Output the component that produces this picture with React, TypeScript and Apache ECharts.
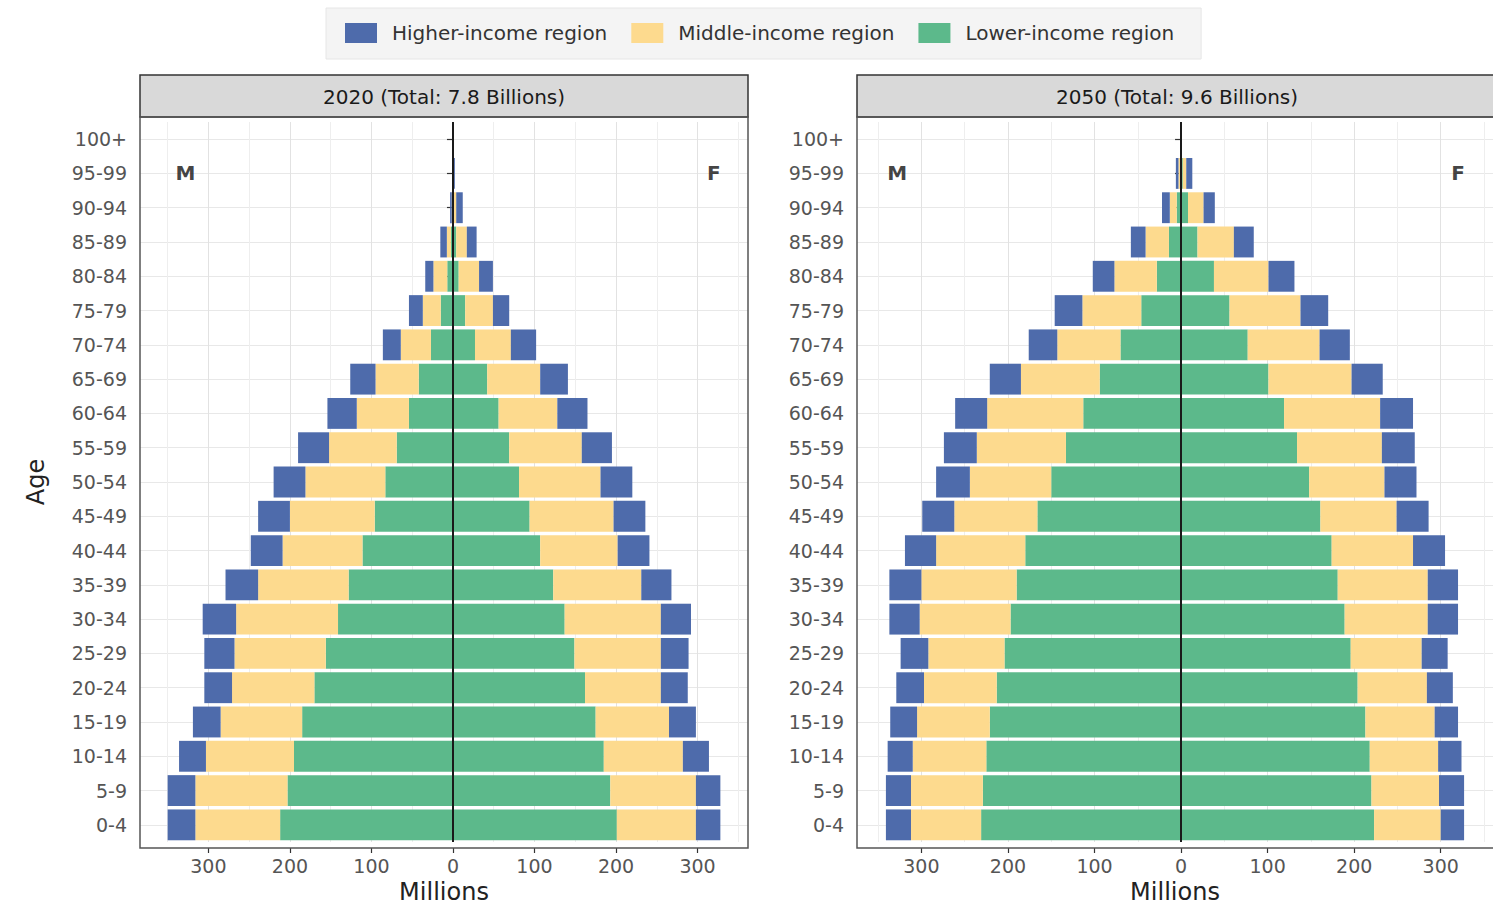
import React, { useEffect, useRef } from 'react';
import * as echarts from 'echarts';

// ---------- data ----------
const ageGroups = ['0-4', '5-9', '10-14', '15-19', '20-24', '25-29', '30-34', '35-39', '40-44', '45-49', '50-54',
  '55-59', '60-64', '65-69', '70-74', '75-79', '80-84', '85-89', '90-94', '95-99', '100+'];

const incomeGroups = ['Lower-income region', 'Middle-income region', 'Higher-income region'];
const legendOrder = ['Higher-income region', 'Middle-income region', 'Lower-income region'];
const panelTitles = ['2020 (Total: 7.8 Billions)', '2050 (Total: 9.6 Billions)'];

// millions, ordered 0-4 ... 100+
const male2020Lower = [212, 203, 195, 185, 170, 156, 141, 128, 111, 96, 83, 69, 54, 42, 27, 15, 7, 2.5, 0.5, 0.1, 0.01];
const male2020Middle = [104, 113, 108, 100, 101, 112, 125, 111, 98, 104, 98, 83, 64, 53, 37, 22, 17, 5, 1, 0.2, 0.02];
const male2020Higher = [34, 34, 33, 34, 34, 37, 41, 40, 39, 39, 39, 38, 36, 31, 22, 17, 10, 8, 2, 0.4, 0.05];
const female2020Lower = [201, 193, 185, 175, 162, 149, 137, 123, 107, 94, 81, 69, 56, 42, 27, 15, 7, 4, 1, 0.2, 0.03];
const female2020Middle = [97, 105, 97, 90, 93, 106, 118, 108, 95, 103, 100, 89, 72, 65, 44, 34, 25, 13, 3, 0.6, 0.1];
const female2020Higher = [30, 30, 32, 33, 33, 34, 37, 37, 39, 39, 39, 37, 37, 34, 31, 20, 17, 12, 8, 1.5, 0.3];

const male2050Lower = [231, 229, 225, 221, 213, 204, 197, 190, 180, 166, 150, 133, 113, 94, 70, 46, 28, 14, 5, 1, 0.05];
const male2050Middle = [81, 83, 85, 84, 84, 88, 105, 110, 103, 96, 94, 103, 111, 91, 73, 68, 49, 27, 8, 2, 0.1];
const male2050Higher = [29, 29, 29, 31, 32, 32, 35, 37, 36, 37, 39, 38, 37, 36, 33, 32, 25, 17, 9, 3, 0.2];
const female2050Lower = [223, 220, 218, 213, 204, 196, 189, 181, 174, 161, 148, 134, 119, 101, 77, 56, 38, 19, 8, 2, 0.1];
const female2050Middle = [77, 78, 79, 80, 80, 82, 96, 104, 94, 88, 87, 98, 111, 96, 83, 82, 63, 42, 18, 4, 0.3];
const female2050Higher = [27, 29, 27, 27, 30, 30, 35, 35, 37, 37, 37, 38, 38, 36, 35, 32, 30, 23, 13, 7, 0.6];

const xTickValues = [-300, -200, -100, 0, 100, 200, 300];
const xGridValues = [-350, -300, -250, -200, -150, -100, -50, 0, 50, 100, 150, 200, 250, 300, 350];

const sexMarks = ['M', 'F'];
const sexMarkX = [-328, 320];
const sexMarkAge = '95-99';

// ---------- styling / layout ----------
const FONT = 'DejaVu Sans';
const incomeColors: Record<string, string> = {
  'Lower-income region': '#5cb98b',
  'Middle-income region': '#fdda8e',
  'Higher-income region': '#4e6bab',
};
const panelLeft = [140, 857];
const panelWidth = [608, 640];
const stripTop = 75;
const panelTop = 117;
const panelBottom = 848;
const gridTop = 122;
const gridBottomY = 842;
const H = 916;

const panels = [
  { male: [male2020Lower, male2020Middle, male2020Higher], female: [female2020Lower, female2020Middle, female2020Higher] },
  { male: [male2050Lower, male2050Middle, male2050Higher], female: [female2050Lower, female2050Middle, female2050Higher] },
];

function sumRows(arrs: number[][]) {
  return ageGroups.map((_, i) => arrs.reduce((s, a) => s + a[i], 0));
}

function buildOption() {
  const grid: any[] = [];
  const xAxis: any[] = [];
  const yAxis: any[] = [];
  const series: any[] = [];
  const graphic: any[] = [];

  panels.forEach((pd, p) => {
    const maxM = Math.max(...sumRows(pd.male));
    const maxF = Math.max(...sumRows(pd.female));
    const span = maxM + maxF;
    const xmin = -maxM - 0.05 * span;
    const xmax = maxF + 0.05 * span;

    grid.push({
      left: panelLeft[p],
      width: panelWidth[p],
      top: gridTop,
      bottom: H - gridBottomY,
      containLabel: false,
    });

    // gridline axis
    xAxis.push({
      type: 'value',
      gridIndex: p,
      min: xmin,
      max: xmax,
      position: 'bottom',
      axisLine: { show: false },
      axisTick: { show: false, customValues: xGridValues },
      axisLabel: { show: false },
      splitLine: { show: true, lineStyle: { color: ['#eeeeee', '#e2e2e2'], width: 1 } },
    });
    // ticks + labels axis
    xAxis.push({
      type: 'value',
      gridIndex: p,
      min: xmin,
      max: xmax,
      position: 'bottom',
      offset: panelBottom - gridBottomY,
      name: 'Millions',
      nameLocation: 'middle',
      nameGap: 32,
      nameTextStyle: { fontFamily: FONT, fontSize: 24, color: '#222' },
      axisLine: { show: false },
      axisTick: { show: true, length: 5, customValues: xTickValues, lineStyle: { color: '#333', width: 1.2 } },
      axisLabel: {
        show: true,
        customValues: xTickValues,
        margin: 8,
        fontFamily: FONT,
        fontSize: 19,
        color: '#555',
        formatter: (v: number) => String(Math.abs(Math.round(v))),
      },
      splitLine: { show: false },
    });

    yAxis.push({
      type: 'category',
      gridIndex: p,
      data: ageGroups,
      boundaryGap: true,
      name: p === 0 ? 'Age' : '',
      nameLocation: 'middle',
      nameRotate: 90,
      nameGap: 92,
      nameTextStyle: { fontFamily: FONT, fontSize: 24, color: '#222' },
      axisLine: { show: false },
      axisTick: { show: true, alignWithLabel: true, length: 6, lineStyle: { color: '#333', width: 1.2 } },
      axisLabel: { show: true, margin: 13, fontFamily: FONT, fontSize: 19, color: '#555', interval: 0 },
      splitLine: { show: true, alignWithLabel: true, lineStyle: { color: '#e8e8e8', width: 1 } },
    });

    incomeGroups.forEach((g, gi) => {
      series.push({
        type: 'bar',
        name: g,
        xAxisIndex: p * 2,
        yAxisIndex: p,
        stack: `m${p}`,
        barGap: '-100%',
        barCategoryGap: '10%',
        itemStyle: { color: incomeColors[g] },
        data: pd.male[gi].map((v) => -v),
      });
    });
    incomeGroups.forEach((g, gi) => {
      const s: any = {
        type: 'bar',
        name: g,
        xAxisIndex: p * 2,
        yAxisIndex: p,
        stack: `f${p}`,
        barGap: '-100%',
        barCategoryGap: '10%',
        itemStyle: { color: incomeColors[g] },
        data: pd.female[gi],
      };
      if (gi === incomeGroups.length - 1) {
        s.markLine = {
          silent: true,
          symbol: ['none', 'none'],
          label: { show: false },
          lineStyle: { color: '#1a1a1a', width: 2, type: 'solid' },
          data: [{ xAxis: 0 }],
        };
      }
      series.push(s);
    });

    series.push({
      type: 'scatter',
      name: 'sex',
      xAxisIndex: p * 2,
      yAxisIndex: p,
      symbolSize: 0,
      silent: true,
      data: sexMarks.map((m, i) => ({ name: m, value: [sexMarkX[i], sexMarkAge] })),
      label: {
        show: true,
        position: 'inside',
        formatter: '{b}',
        fontFamily: FONT,
        fontWeight: 'bold',
        fontSize: 20,
        color: '#111',
      },
      z: 6,
    });

    graphic.push(
      {
        type: 'rect',
        shape: { x: panelLeft[p], y: stripTop, width: panelWidth[p], height: panelTop - stripTop },
        style: { fill: '#d9d9d9', stroke: '#333', lineWidth: 1.5 },
        z: 10,
      },
      {
        type: 'text',
        x: panelLeft[p] + panelWidth[p] / 2,
        y: (stripTop + panelTop) / 2 + 1,
        style: {
          text: panelTitles[p],
          fill: '#1a1a1a',
          fontFamily: FONT,
          fontSize: 20,
          align: 'center',
          verticalAlign: 'middle',
        },
        z: 11,
      },
      {
        type: 'rect',
        shape: { x: panelLeft[p], y: panelTop, width: panelWidth[p], height: panelBottom - panelTop },
        style: { fill: 'none', stroke: '#555', lineWidth: 1.5 },
        z: 10,
        silent: true,
      }
    );
  });

  return {
    animation: false,
    backgroundColor: '#ffffff',
    legend: {
      data: legendOrder,
      left: 326,
      top: 8,
      orient: 'horizontal',
      padding: [15, 27, 16, 19],
      itemWidth: 32,
      itemHeight: 20,
      itemGap: 24,
      icon: 'rect',
      backgroundColor: '#f4f4f4',
      borderColor: '#e6e6e6',
      borderWidth: 1,
      selectedMode: false,
      textStyle: { fontFamily: FONT, fontSize: 20, color: '#333', padding: [0, 0, 0, 10] },
    },
    grid,
    xAxis,
    yAxis,
    series,
    graphic,
  };
}

export default function App() {
  const ref = useRef<HTMLDivElement>(null);
  useEffect(() => {
    if (!ref.current) return;
    const chart = echarts.init(ref.current, undefined, { renderer: 'svg' });
    chart.setOption(buildOption() as any);
    return () => chart.dispose();
  }, []);
  return (
    <div
      ref={ref}
      style={{ position: 'fixed', left: 0, top: 0, width: 1493, height: 916, background: '#fff' }}
    />
  );
}
